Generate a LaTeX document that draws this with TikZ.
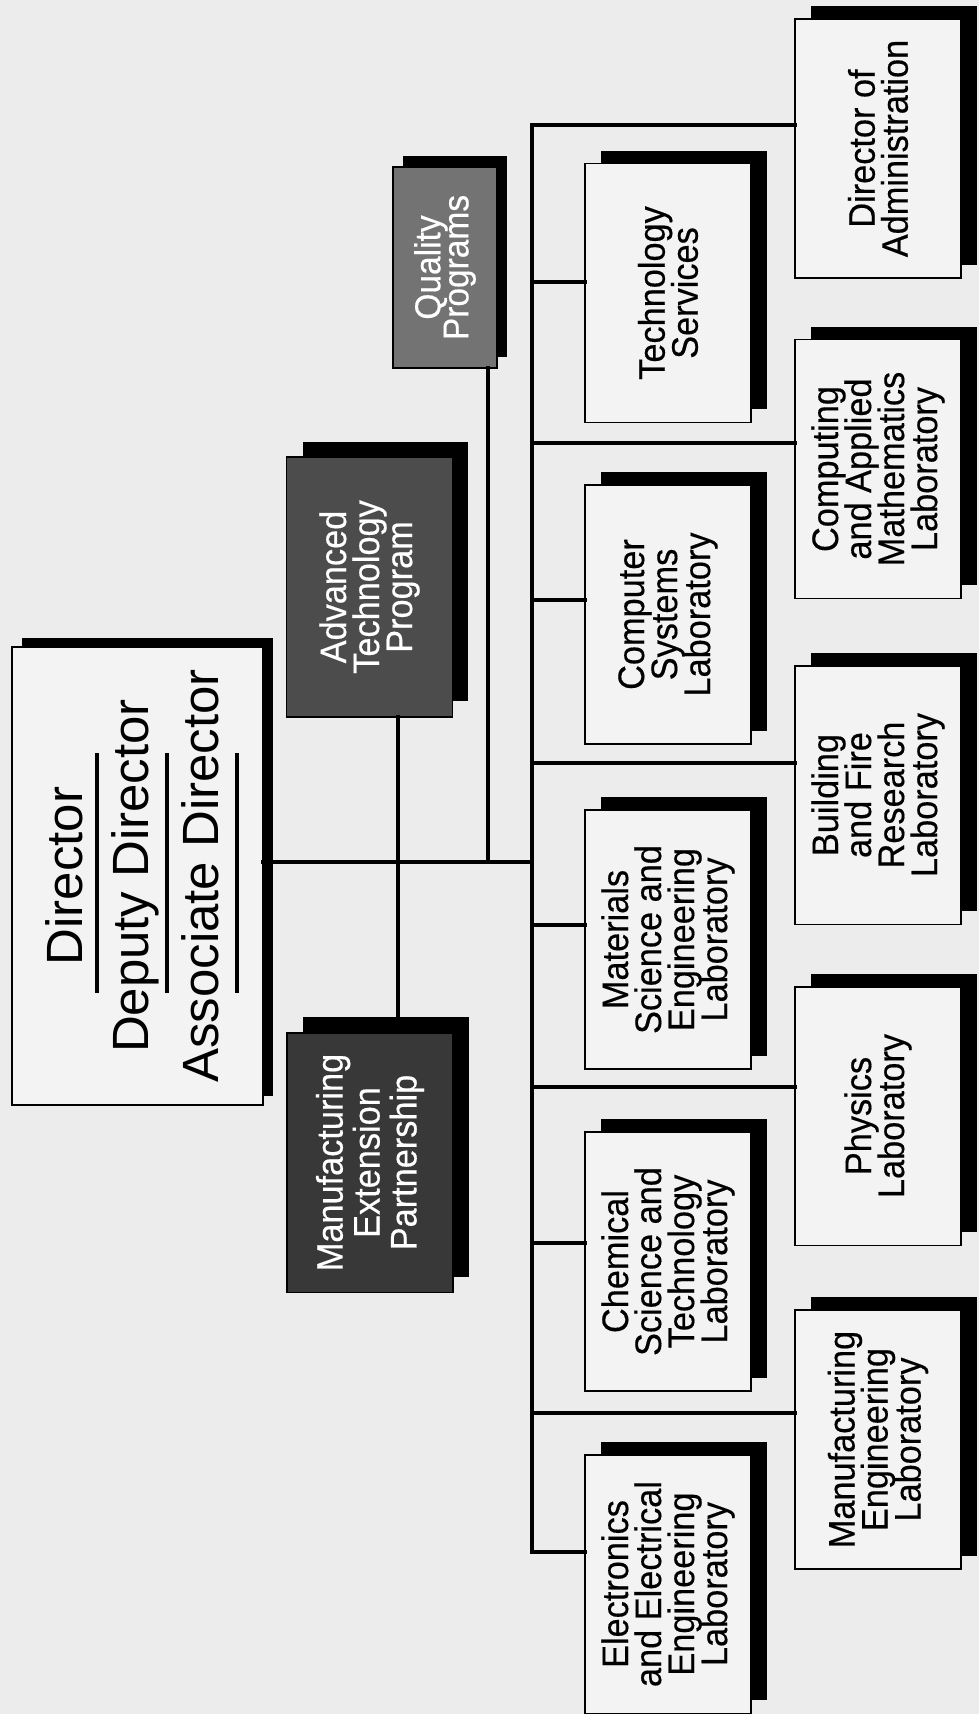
\documentclass[tikz,border=0pt]{standalone}
\usepackage{fontspec}
\usepackage{graphicx}
\usetikzlibrary{shadows,calc}
\setmainfont{Liberation Sans}
\newfontfamily\labfont[FakeStretch=0.93,FakeBold=0.4]{Liberation Sans}
\definecolor{bg}{RGB}{236,236,236}
\definecolor{boxfill}{RGB}{243,243,243}
\newcommand\vt[2][18.8pt]{\rotatebox{90}{\vbox{\baselineskip=#1\lineskiplimit=-50pt\relax\halign{\hfil##\hfil\cr#2\crcr}}}}
\tikzset{
  lab/.style={draw=black, line width=1.1pt, fill=boxfill, minimum width=3.32cm, minimum height=5.18cm, inner sep=0pt,
    font=\labfont\fontsize{21}{18.8}\selectfont,
    general shadow={fill=black, draw=none, shadow xshift=0.32cm, shadow yshift=0.26cm}},
  dirbox/.style={draw=black, line width=1.1pt, fill=boxfill, minimum width=5.02cm, minimum height=9.16cm, inner sep=0pt,
    general shadow={fill=black, draw=none, shadow xshift=0.2cm, shadow yshift=0.18cm}},
  darkbox/.style={draw=black, line width=1.1pt, fill=black!70, text=white, minimum width=3.32cm, minimum height=5.2cm, inner sep=0pt,
    font=\labfont\fontsize{21}{18.8}\selectfont,
    general shadow={fill=black, draw=none, shadow xshift=0.32cm, shadow yshift=0.31cm}},
  qpbox/.style={draw=black, line width=1.1pt, fill=black!55, text=white, minimum width=2.08cm, minimum height=4.02cm, inner sep=0pt,
    font=\labfont\fontsize{20.5}{16}\selectfont,
    general shadow={fill=black, draw=none, shadow xshift=0.2cm, shadow yshift=0.22cm}},
  dirtext/.style={rotate=90, anchor=base, inner sep=0pt, font=\fontsize{29}{34}\selectfont},
  wire/.style={line width=2.8pt, line cap=rect, line join=miter},
  uline/.style={line width=1.8pt}
}
\begin{document}
\begin{tikzpicture}[x=0.02cm, y=-0.02cm]
\fill[bg] (0,0) rectangle (979,1714);
\useasboundingbox (0,0) rectangle (979,1714);

% Director box
\node[dirbox] (dir) at (137.5,876) {};
\node[dirtext] (tdir) at (82,876) {Director};
\node[dirtext] (tdep) at (148,876) {Deputy Director};
\node[dirtext] (tass) at (218,876) {Associate Director};
\draw[uline] (97,753) -- (97,993);
\draw[uline] (167,753) -- (167,993);
\draw[uline] (237,753) -- (237,993);

% Special programs
\node[darkbox] (atp) at (369.5,587) {\vt{Advanced\cr Technology\cr Program}};
\node[darkbox, fill=black!78] (mep) at (370,1162.5) {\vt[21pt]{Manufacturing\cr Extension\cr Partnership}};
\node[qpbox] (qp) at (445,267.5) {\vt[16pt]{Quality\cr Programs}};

% Laboratories, column 1
\node[lab] (ts)  at (668,293)    {\vt{Technology\cr Services}};
\node[lab] (cs)  at (668,614.5)  {\vt{Computer\cr Systems\cr Laboratory}};
\node[lab] (mse) at (668,939.5)  {\vt{Materials\cr Science and\cr Engineering\cr Laboratory}};
\node[lab] (cst) at (668,1261.5) {\vt{Chemical\cr Science and\cr Technology\cr Laboratory}};
\node[lab] (eee) at (668,1584)   {\vt{Electronics\cr and Electrical\cr Engineering\cr Laboratory}};

% Laboratories, column 2
\node[lab] (doa)  at (878,148.5)  {\vt{Director of\cr Administration}};
\node[lab] (cam)  at (878,469)    {\vt{Computing\cr and Applied\cr Mathematics\cr Laboratory}};
\node[lab] (bfr)  at (878,795)    {\vt{Building\cr and Fire\cr Research\cr Laboratory}};
\node[lab] (phys) at (878,1116)   {\vt{Physics\cr Laboratory}};
\node[lab] (mel)  at (878,1439.5) {\vt{Manufacturing\cr Engineering\cr Laboratory}};

% connector coordinates
\coordinate (hub) at (532,862);
\coordinate (vx) at (398,862);
\coordinate (qx) at (488,862);
\coordinate (spTop) at (532,125);
\coordinate (spBot) at (532,1552);
\coordinate (c1) at (532,282);
\coordinate (c2) at (532,600);
\coordinate (c3) at (532,925);
\coordinate (c4) at (532,1243);
\coordinate (d1) at (532,443);
\coordinate (d2) at (532,763);
\coordinate (d3) at (532,1087);
\coordinate (d4) at (532,1413);

% connectors
\draw[wire] (hub -| dir.east) -- (hub);
\draw[wire] (vx |- atp.south) -- (vx |- mep.north);
\draw[wire] (qx |- qp.south) -- (qx);
\draw[wire] (doa.west |- spTop) -- (spTop) -- (spBot) -- (spBot -| eee.west);
\draw[wire] (c1) -- (c1 -| ts.west);
\draw[wire] (c2) -- (c2 -| cs.west);
\draw[wire] (c3) -- (c3 -| mse.west);
\draw[wire] (c4) -- (c4 -| cst.west);
\draw[wire] (d1) -- (d1 -| cam.west);
\draw[wire] (d2) -- (d2 -| bfr.west);
\draw[wire] (d3) -- (d3 -| phys.west);
\draw[wire] (d4) -- (d4 -| mel.west);
\end{tikzpicture}
\end{document}
